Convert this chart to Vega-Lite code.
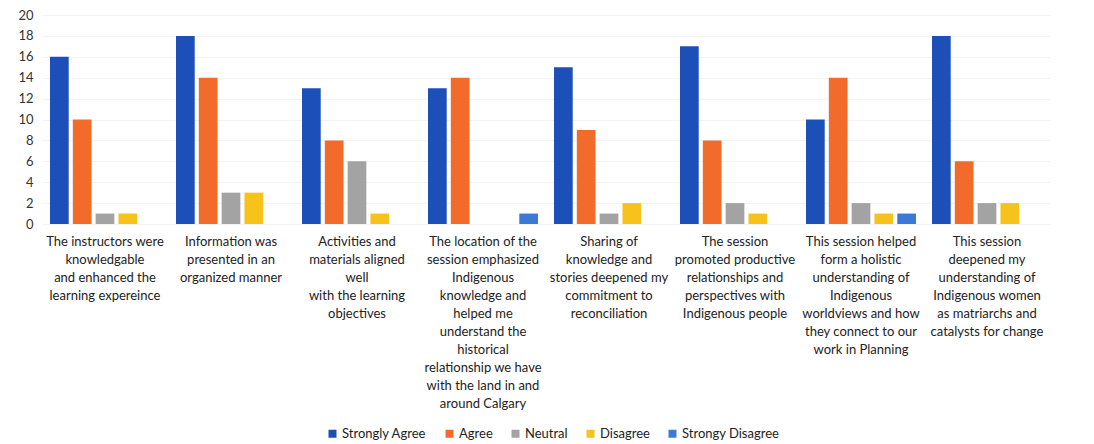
{
  "$schema": "https://vega.github.io/schema/vega-lite/v6.json",
  "width": 1008,
  "height": 209,
  "autosize": {"type": "none"},
  "padding": {"left": 42, "top": 15, "right": 44, "bottom": 220},
  "background": "white",
  "config": {
    "font": "Lato",
    "view": {"stroke": null},
    "axis": {"labelFont": "Lato", "labelColor": "#333333"},
    "legend": {"labelFont": "Lato"}
  },
  "data": {
    "values": [
      {"q": "The instructors were|knowledgable|and enhanced the|learning expereince", "r": "Strongly Agree", "v": 16},
      {"q": "The instructors were|knowledgable|and enhanced the|learning expereince", "r": "Agree", "v": 10},
      {"q": "The instructors were|knowledgable|and enhanced the|learning expereince", "r": "Neutral", "v": 1},
      {"q": "The instructors were|knowledgable|and enhanced the|learning expereince", "r": "Disagree", "v": 1},
      {"q": "The instructors were|knowledgable|and enhanced the|learning expereince", "r": "Strongy Disagree", "v": 0},
      {"q": "Information was|presented in an|organized manner", "r": "Strongly Agree", "v": 18},
      {"q": "Information was|presented in an|organized manner", "r": "Agree", "v": 14},
      {"q": "Information was|presented in an|organized manner", "r": "Neutral", "v": 3},
      {"q": "Information was|presented in an|organized manner", "r": "Disagree", "v": 3},
      {"q": "Information was|presented in an|organized manner", "r": "Strongy Disagree", "v": 0},
      {"q": "Activities and|materials aligned|well|with the learning|objectives", "r": "Strongly Agree", "v": 13},
      {"q": "Activities and|materials aligned|well|with the learning|objectives", "r": "Agree", "v": 8},
      {"q": "Activities and|materials aligned|well|with the learning|objectives", "r": "Neutral", "v": 6},
      {"q": "Activities and|materials aligned|well|with the learning|objectives", "r": "Disagree", "v": 1},
      {"q": "Activities and|materials aligned|well|with the learning|objectives", "r": "Strongy Disagree", "v": 0},
      {"q": "The location of the|session emphasized|Indigenous|knowledge and|helped me|understand the|historical|relationship we have|with the land in and|around Calgary", "r": "Strongly Agree", "v": 13},
      {"q": "The location of the|session emphasized|Indigenous|knowledge and|helped me|understand the|historical|relationship we have|with the land in and|around Calgary", "r": "Agree", "v": 14},
      {"q": "The location of the|session emphasized|Indigenous|knowledge and|helped me|understand the|historical|relationship we have|with the land in and|around Calgary", "r": "Neutral", "v": 0},
      {"q": "The location of the|session emphasized|Indigenous|knowledge and|helped me|understand the|historical|relationship we have|with the land in and|around Calgary", "r": "Disagree", "v": 0},
      {"q": "The location of the|session emphasized|Indigenous|knowledge and|helped me|understand the|historical|relationship we have|with the land in and|around Calgary", "r": "Strongy Disagree", "v": 1},
      {"q": "Sharing of|knowledge and|stories deepened my|commitment to|reconciliation", "r": "Strongly Agree", "v": 15},
      {"q": "Sharing of|knowledge and|stories deepened my|commitment to|reconciliation", "r": "Agree", "v": 9},
      {"q": "Sharing of|knowledge and|stories deepened my|commitment to|reconciliation", "r": "Neutral", "v": 1},
      {"q": "Sharing of|knowledge and|stories deepened my|commitment to|reconciliation", "r": "Disagree", "v": 2},
      {"q": "Sharing of|knowledge and|stories deepened my|commitment to|reconciliation", "r": "Strongy Disagree", "v": 0},
      {"q": "The session|promoted productive|relationships and|perspectives with|Indigenous people", "r": "Strongly Agree", "v": 17},
      {"q": "The session|promoted productive|relationships and|perspectives with|Indigenous people", "r": "Agree", "v": 8},
      {"q": "The session|promoted productive|relationships and|perspectives with|Indigenous people", "r": "Neutral", "v": 2},
      {"q": "The session|promoted productive|relationships and|perspectives with|Indigenous people", "r": "Disagree", "v": 1},
      {"q": "The session|promoted productive|relationships and|perspectives with|Indigenous people", "r": "Strongy Disagree", "v": 0},
      {"q": "This session helped|form a holistic|understanding of|Indigenous|worldviews and how|they connect to our|work in Planning", "r": "Strongly Agree", "v": 10},
      {"q": "This session helped|form a holistic|understanding of|Indigenous|worldviews and how|they connect to our|work in Planning", "r": "Agree", "v": 14},
      {"q": "This session helped|form a holistic|understanding of|Indigenous|worldviews and how|they connect to our|work in Planning", "r": "Neutral", "v": 2},
      {"q": "This session helped|form a holistic|understanding of|Indigenous|worldviews and how|they connect to our|work in Planning", "r": "Disagree", "v": 1},
      {"q": "This session helped|form a holistic|understanding of|Indigenous|worldviews and how|they connect to our|work in Planning", "r": "Strongy Disagree", "v": 1},
      {"q": "This session|deepened my|understanding of|Indigenous women|as matriarchs and|catalysts for change", "r": "Strongly Agree", "v": 18},
      {"q": "This session|deepened my|understanding of|Indigenous women|as matriarchs and|catalysts for change", "r": "Agree", "v": 6},
      {"q": "This session|deepened my|understanding of|Indigenous women|as matriarchs and|catalysts for change", "r": "Neutral", "v": 2},
      {"q": "This session|deepened my|understanding of|Indigenous women|as matriarchs and|catalysts for change", "r": "Disagree", "v": 2},
      {"q": "This session|deepened my|understanding of|Indigenous women|as matriarchs and|catalysts for change", "r": "Strongy Disagree", "v": 0}
    ]
  },
  "mark": {"type": "bar"},
  "encoding": {
    "x": {
      "field": "q",
      "type": "nominal",
      "sort": null,
      "scale": {"paddingInner": 0.127, "paddingOuter": 0.0635},
      "axis": {
        "title": null,
        "labelAngle": 0,
        "labelExpr": "split(datum.label, '|')",
        "labelLineHeight": 18,
        "labelFontSize": 13,
        "labelColor": "#222222",
        "labelPadding": 11,
        "labelLimit": 200,
        "ticks": false,
        "domain": false
      }
    },
    "xOffset": {
      "field": "r",
      "type": "nominal",
      "sort": ["Strongly Agree", "Agree", "Neutral", "Disagree", "Strongy Disagree"],
      "scale": {"paddingInner": 0.18}
    },
    "y": {
      "field": "v",
      "type": "quantitative",
      "scale": {"domain": [0, 20]},
      "axis": {
        "title": null,
        "values": [0, 2, 4, 6, 8, 10, 12, 14, 16, 18, 20],
        "labelFontSize": 13,
        "labelPadding": 9,
        "ticks": false,
        "domain": false,
        "gridColor": "#f3f3f3"
      }
    },
    "color": {
      "field": "r",
      "type": "nominal",
      "sort": ["Strongly Agree", "Agree", "Neutral", "Disagree", "Strongy Disagree"],
      "scale": {
        "domain": ["Strongly Agree", "Agree", "Neutral", "Disagree", "Strongy Disagree"],
        "range": ["#1d4fb8", "#f26b2b", "#a3a3a3", "#f8c21c", "#3a7ad6"]
      },
      "legend": {
        "title": null,
        "orient": "none",
        "legendX": 284,
        "legendY": 412,
        "direction": "horizontal",
        "symbolType": "square",
        "symbolSize": 64,
        "symbolStrokeWidth": 0,
        "labelFontSize": 13,
        "labelOffset": 3,
        "labelColor": "#222222",
        "columnPadding": 16
      }
    }
  }
}
